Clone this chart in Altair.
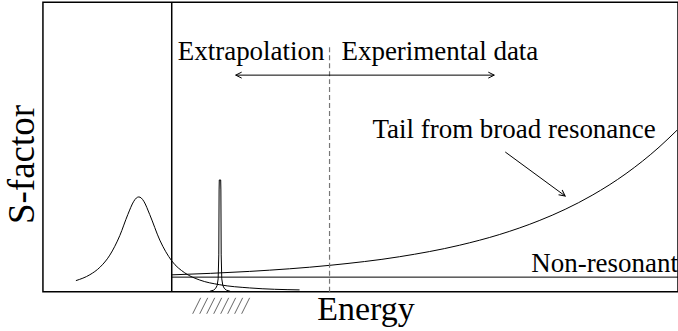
import altair as alt
import pandas as pd

FONT = "Liberation Serif"

# Broad resonance (below threshold) - energy, S-factor (arbitrary units)
broad_E = [0.519, 0.739, 0.896, 1.053, 1.211, 1.336, 1.431, 1.470, 1.509, 1.549, 1.588, 1.682,
           1.840, 2.028, 2.233, 2.469, 2.783, 3.255, 4.041]
broad_S = [0.386, 0.590, 0.845, 1.266, 1.945, 2.666, 3.128, 3.238, 3.276, 3.238, 3.128, 2.666,
           1.786, 1.069, 0.655, 0.407, 0.245, 0.134, 0.066]

# Narrow resonance
narrow_E = [2.626, 2.689, 2.720, 2.744, 2.759, 2.769, 2.774, 2.777, 2.799, 2.802, 2.807, 2.816,
            2.832, 2.855, 2.887, 2.950]
narrow_S = [0.017, 0.059, 0.121, 0.224, 0.448, 1.276, 3.517, 3.862, 3.862, 3.517, 1.276, 0.448,
            0.224, 0.121, 0.059, 0.017]

# Tail from broad resonance
tail_E = [2.028, 3.255, 4.513, 5.613, 6.557, 7.186, 7.814, 8.223, 8.648, 9.182, 9.701, 9.984]
tail_S = [0.586, 0.705, 0.914, 1.211, 1.607, 1.976, 2.459, 2.848, 3.334, 4.083, 4.993, 5.579]

threshold_E = 2.028
nonres_S = 0.507
boundary_E = 4.513
boundary_top = 8.517
arrow_S = 7.483
arrow_E = [3.035, 7.107]
diag_E = [7.280, 8.223]
diag_S = [4.828, 3.310]

hatch_E0 = [2.358, 2.469, 2.579, 2.689, 2.799, 2.909, 3.019, 3.129]
hatch_dE = 0.126
hatch_S = [-0.759, -0.207]

labels = ["Extrapolation", "Experimental data", "Tail from broad resonance", "Non-resonant"]
label_E = [2.123, 4.701, 5.189, 7.689]
label_S = [8.017, 8.017, 5.310, 0.700]

xs = alt.Scale(domain=[0, 10], nice=False, zero=False)
ys = alt.Scale(domain=[0, 10], nice=False, zero=False)

broad_df = pd.DataFrame({"E": broad_E, "S": broad_S, "i": list(range(len(broad_E)))})
broad = alt.Chart(broad_df).mark_line(color="black", strokeWidth=1.0, interpolate="monotone").encode(
    x=alt.X("E:Q", scale=xs, axis=alt.Axis(title="Energy", labels=False, ticks=False, domain=False,
                                            grid=False, titleFont=FONT, titleFontSize=34,
                                            titleFontWeight="normal", titleColor="black",
                                            titleBaseline="alphabetic", titleX=323, titleY=28,
                                            titleAlign="center")),
    y=alt.Y("S:Q", scale=ys, axis=alt.Axis(title="S-factor", labels=False, ticks=False, domain=False,
                                            grid=False, titleFont=FONT, titleFontSize=37,
                                            titleFontWeight="normal", titleColor="black",
                                            titleBaseline="alphabetic", titleX=-9, titleY=162,
                                            titleAlign="center", titleAngle=270)),
    order="i:O",
)

narrow = alt.Chart(pd.DataFrame({"E": narrow_E, "S": narrow_S, "i": list(range(len(narrow_E)))})).mark_line(
    color="black", strokeWidth=1.0).encode(x=alt.X("E:Q", scale=xs), y=alt.Y("S:Q", scale=ys), order="i:O")
tail = alt.Chart(pd.DataFrame({"E": tail_E, "S": tail_S, "i": list(range(len(tail_E)))})).mark_line(
    color="black", strokeWidth=1.0, interpolate="monotone").encode(
    x=alt.X("E:Q", scale=xs), y=alt.Y("S:Q", scale=ys), order="i:O")

rules_df = pd.DataFrame({
    "x": [threshold_E, threshold_E],
    "x2": [10.0, threshold_E],
    "y": [nonres_S, 0.0],
    "y2": [nonres_S, 10.0],
    "w": [1.0, 1.5],
})
rules = alt.Chart(rules_df).mark_rule(color="black").encode(
    x=alt.X("x:Q", scale=xs), x2="x2", y=alt.Y("y:Q", scale=ys), y2="y2",
    strokeWidth=alt.StrokeWidth("w:Q", scale=None))

dashed = alt.Chart(pd.DataFrame({"x": [boundary_E], "y": [0.0], "y2": [boundary_top]})).mark_rule(
    color="#777777", strokeDash=[5, 3], strokeWidth=1.2).encode(
    x=alt.X("x:Q", scale=xs), y=alt.Y("y:Q", scale=ys), y2="y2")

arrows_df = pd.DataFrame({"x": [arrow_E[0], diag_E[0]], "x2": [arrow_E[1], diag_E[1]],
                          "y": [arrow_S, diag_S[0]], "y2": [arrow_S, diag_S[1]]})
arrows = alt.Chart(arrows_df).mark_rule(color="black", strokeWidth=1.0).encode(
    x=alt.X("x:Q", scale=xs), x2="x2", y=alt.Y("y:Q", scale=ys), y2="y2")

heads_df = pd.DataFrame({"x": [arrow_E[0], arrow_E[1], diag_E[1]],
                         "y": [arrow_S, arrow_S, diag_S[1]],
                         "a": [180.0, 0.0, 36.6]})
heads = alt.Chart(heads_df).mark_point(shape="M-1,-0.5L0,0L-1,0.5", filled=False, color="black",
                                       size=144, strokeWidth=1.0, opacity=1).encode(
    x=alt.X("x:Q", scale=xs), y=alt.Y("y:Q", scale=ys), angle=alt.Angle("a:Q", scale=None))

hatch_df = pd.DataFrame({"x": hatch_E0, "x2": [e + hatch_dE for e in hatch_E0],
                         "y": [hatch_S[0]] * len(hatch_E0), "y2": [hatch_S[1]] * len(hatch_E0)})
hatch = alt.Chart(hatch_df).mark_rule(color="#666666", strokeWidth=1.0).encode(
    x=alt.X("x:Q", scale=xs), x2="x2", y=alt.Y("y:Q", scale=ys), y2="y2")

text_df = pd.DataFrame({"t": labels, "x": label_E, "y": label_S})
texts = alt.Chart(text_df).mark_text(font=FONT, fontSize=27, align="left", baseline="alphabetic",
                                     color="black").encode(
    x=alt.X("x:Q", scale=xs), y=alt.Y("y:Q", scale=ys), text="t:N")

chart = alt.layer(broad, narrow, tail, rules, dashed, arrows, heads, hatch, texts).properties(
    width=636, height=290,
    autosize=alt.AutoSizeParams(type="none"),
    padding={"left": 43, "top": 2, "right": 0, "bottom": 39},
    background="white",
).configure_view(stroke="black", strokeWidth=1.5)

chart.save("out.html", embed_options={"renderer": "svg", "actions": False})
